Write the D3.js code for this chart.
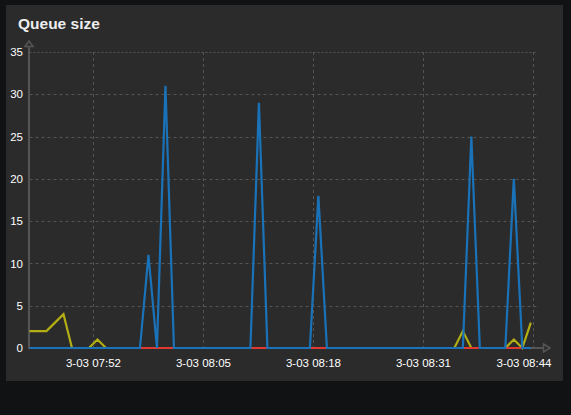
<!DOCTYPE html>
<html><head><meta charset="utf-8">
<script src="https://cdn.jsdelivr.net/npm/d3@7/dist/d3.min.js"></script>
<style>html,body{margin:0;padding:0;background:#111214;}svg{display:block}</style>
</head><body>
<svg id="chart" width="571" height="415"></svg>
<script>
// ---- data ----
const title = "Queue size";
const startTime = "2024-03-03T07:44:30";
const stepSeconds = 60.25;
const domainStart = "2024-03-03T07:44:30";
const domainEnd = "2024-03-03T08:44:30";
const yellowValues = [
  2,2,2,3,4,0,0,0,1,0,
  0,0,0,0,0,0,0,0,0,0,
  0,0,0,0,0,0,0,0,0,0,
  0,0,0,0,0,0,0,0,0,0,
  0,0,0,0,0,0,0,0,0,0,
  0,2,0,0,0,0,0,1,0,3
];
const redValues = [
  0,0,0,0,0,0,0,0,0,0,
  0,0,0,0,0,0,0,0,0,0,
  0,0,0,0,0,0,0,0,0,0,
  0,0,0,0,0,0,0,0,0,0,
  0,0,0,0,0,0,0,0,0,0,
  0,0,0,0,0,0,0,0,0,0
];
const blueValues = [
  0,0,0,0,0,0,0,0,0,0,
  0,0,0,0,11,0,31,0,0,0,
  0,0,0,0,0,0,0,29,0,0,
  0,0,0,0,18,0,0,0,0,0,
  0,0,0,0,0,0,0,0,0,0,
  0,0,25,0,0,0,0,20,0,0
];
const xTickTimes = ["2024-03-03T07:52:00","2024-03-03T08:05:00","2024-03-03T08:18:00","2024-03-03T08:31:00","2024-03-03T08:44:00"];
const xTickLabels = ["3-03 07:52","3-03 08:05","3-03 08:18","3-03 08:31","3-03 08:44"];
const yTicks = [0,5,10,15,20,25,30,35];

// ---- drawing ----
const svg = d3.select("#chart");
svg.append("rect").attr("x",6).attr("y",5).attr("width",557).attr("height",376).attr("fill","#2b2b2b");

svg.append("text").attr("x",18).attr("y",29).text(title)
  .attr("fill","#eeeeee").attr("font-family","Liberation Sans, Arial, sans-serif")
  .attr("font-size",15.5).attr("font-weight","bold");

const t0 = new Date(startTime).getTime();
const times = blueValues.map((_, i) => new Date(t0 + i * stepSeconds * 1000));

const x = d3.scaleTime().domain([new Date(domainStart), new Date(domainEnd)]).range([29.5, 537.2]);
const y = d3.scaleLinear().domain([0,35]).range([348,52]);

const grid = svg.append("g");
yTicks.filter(v => v > 0).forEach(v => {
  grid.append("line").attr("x1",29.5).attr("x2",537).attr("y1",Math.round(y(v))+0.5).attr("y2",Math.round(y(v))+0.5)
    .attr("stroke","#555").attr("stroke-width",1).attr("stroke-dasharray", v===35 ? "2,2" : "3,3");
});
xTickTimes.forEach(s => {
  const px = Math.round(x(new Date(s)))+0.5;
  grid.append("line").attr("x1",px).attr("x2",px).attr("y1",52).attr("y2",348)
    .attr("stroke","#555").attr("stroke-width",1).attr("stroke-dasharray","3,3");
});

const axisColor = "#555";
svg.append("line").attr("x1",29).attr("x2",29).attr("y1",46).attr("y2",349).attr("stroke",axisColor).attr("stroke-width",2);
svg.append("path").attr("d","M25,46.5 L29,41 L33,46.5 Z").attr("fill","#2b2b2b").attr("stroke",axisColor).attr("stroke-width",1.5);
svg.append("line").attr("x1",28).attr("x2",544).attr("y1",348).attr("y2",348).attr("stroke",axisColor).attr("stroke-width",2);
svg.append("path").attr("d","M543.5,344 L550,348 L543.5,352 Z").attr("fill","#2b2b2b").attr("stroke",axisColor).attr("stroke-width",1.5);

const font = "Liberation Sans, Arial, sans-serif";
const yAxis = d3.axisLeft(y).tickValues(yTicks).tickSize(0).tickPadding(0);
const gy = svg.append("g").attr("transform","translate(23,0)").call(yAxis);
gy.select(".domain").remove();
gy.selectAll("text").attr("fill","#ffffff").attr("font-size",11.5).attr("font-family",font);

const xAxis = d3.axisBottom(x).tickValues(xTickTimes.map(s => new Date(s))).tickFormat((d,i) => xTickLabels[i]).tickSize(0).tickPadding(0);
const gx = svg.append("g").attr("transform","translate(0,359)").call(xAxis);
gx.select(".domain").remove();
gx.selectAll("text").attr("fill","#ffffff").attr("font-size",11.5).attr("font-family",font);
// keep the last label inside the plot's right edge
gx.selectAll(".tick").filter((d,i,n) => i === n.length - 1).select("text")
  .attr("text-anchor","end").attr("x", 551 - x(new Date(xTickTimes[xTickTimes.length-1])));

const line = d3.line().x((d,i) => x(times[i])).y(d => y(d));
const series = [
  {values: yellowValues, color: "#b3ae14"},
  {values: redValues, color: "#e03a30"},
  {values: blueValues, color: "#1a73b9"}
];
series.forEach(s => {
  svg.append("path").datum(s.values).attr("d", line).attr("fill","none")
    .attr("stroke", s.color).attr("stroke-width", 2.2).attr("stroke-linejoin","miter");
});
</script>
</body></html>
